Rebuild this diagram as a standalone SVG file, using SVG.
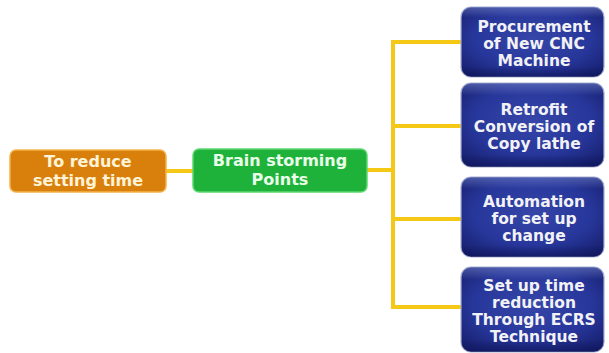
<svg xmlns="http://www.w3.org/2000/svg" width="609" height="353" viewBox="0 0 609 353">
<defs>
<radialGradient id="blue" cx="0.5" cy="0.45" r="0.75">
<stop offset="0" stop-color="#3546a8"/>
<stop offset="0.55" stop-color="#27369a"/>
<stop offset="1" stop-color="#121a62"/>
</radialGradient>
<linearGradient id="blueHi" x1="0" y1="0" x2="0" y2="1">
<stop offset="0" stop-color="#7080c8" stop-opacity="0.6"/>
<stop offset="0.15" stop-color="#7080c8" stop-opacity="0"/>
<stop offset="0.85" stop-color="#0a1050" stop-opacity="0"/>
<stop offset="1" stop-color="#0a1050" stop-opacity="0.5"/>
</linearGradient>
<style>
.lbl{font-family:"DejaVu Sans","Verdana",sans-serif;font-weight:bold;text-anchor:middle}
.blue{fill:url(#blue);stroke:#a8b0d0;stroke-width:1.2}
.bt{fill:#f2f2f6;font-size:15.5px}
.conn{fill:none;stroke:#f5c816;stroke-width:4;stroke-linecap:square}
</style>
</defs>
<rect width="609" height="353" fill="#ffffff"/>
<g id="connectors">
<line class="conn" x1="166" y1="171" x2="193" y2="171"/>
<line class="conn" x1="367" y1="170" x2="393" y2="170"/>
<line class="conn" x1="393" y1="42" x2="393" y2="307"/>
<line class="conn" x1="393" y1="42" x2="461" y2="42"/>
<line class="conn" x1="393" y1="126" x2="461" y2="126"/>
<line class="conn" x1="393" y1="219" x2="461" y2="219"/>
<line class="conn" x1="393" y1="307" x2="461" y2="307"/>
</g>
<g id="goal">
<rect x="10" y="150" width="156" height="42" rx="6" fill="#d9800c" stroke="#f2b24a" stroke-width="1.5"/>
<text class="lbl" x="88" y="167" font-size="16" fill="#fff3d8">To reduce</text>
<text class="lbl" x="88" y="186" font-size="16" fill="#fff3d8">setting time</text>
</g>
<g id="brainstorm">
<rect x="193" y="149" width="174" height="43" rx="6" fill="#1fb23a" stroke="#5fd870" stroke-width="1.5"/>
<text class="lbl" x="280" y="166" font-size="16" fill="#eaffea">Brain storming</text>
<text class="lbl" x="280" y="185" font-size="16" fill="#eaffea">Points</text>
</g>
<g id="n1">
<rect class="blue" x="461" y="7" width="143" height="70" rx="10"/>
<rect x="461" y="7" width="143" height="70" rx="10" fill="url(#blueHi)"/>
<text class="lbl bt" x="534" y="32">Procurement</text>
<text class="lbl bt" x="534" y="49">of New CNC</text>
<text class="lbl bt" x="534" y="66">Machine</text>
</g>
<g id="n2">
<rect class="blue" x="461" y="83" width="143" height="84" rx="10"/>
<rect x="461" y="83" width="143" height="84" rx="10" fill="url(#blueHi)"/>
<text class="lbl bt" x="534" y="115">Retrofit</text>
<text class="lbl bt" x="534" y="132">Conversion of</text>
<text class="lbl bt" x="534" y="149">Copy lathe</text>
</g>
<g id="n3">
<rect class="blue" x="461" y="177" width="143" height="80" rx="10"/>
<rect x="461" y="177" width="143" height="80" rx="10" fill="url(#blueHi)"/>
<text class="lbl bt" x="534" y="207">Automation</text>
<text class="lbl bt" x="534" y="224">for set up</text>
<text class="lbl bt" x="534" y="241">change</text>
</g>
<g id="n4">
<rect class="blue" x="461" y="267" width="143" height="85" rx="10"/>
<rect x="461" y="267" width="143" height="85" rx="10" fill="url(#blueHi)"/>
<text class="lbl bt" x="534" y="291">Set up time</text>
<text class="lbl bt" x="534" y="308">reduction</text>
<text class="lbl bt" x="534" y="325">Through ECRS</text>
<text class="lbl bt" x="534" y="342">Technique</text>
</g>
</svg>
